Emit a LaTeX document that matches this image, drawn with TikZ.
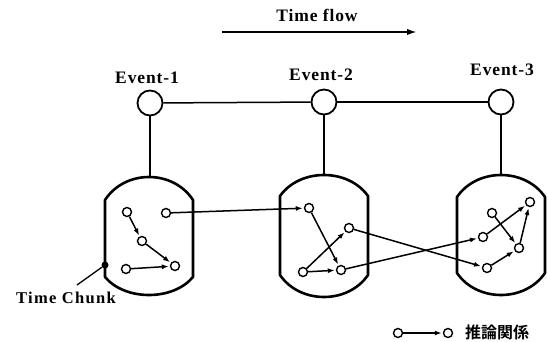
\documentclass[tikz,border=0pt]{standalone}
\usepackage{fontspec}
\setmainfont{Liberation Serif}
\newfontfamily\labfont[LetterSpace=5]{Liberation Serif}
\newfontfamily\tcfont[LetterSpace=8]{Liberation Serif}
\newfontfamily\jpfont{Noto Sans CJK JP Bold}
\usetikzlibrary{arrows.meta,calc}
\newcommand\mychunk[7]{% name, L, R, T, ST, SB, B
  \draw[chunkline] (#2,#5) .. controls ({#2+20},{#5-(#5-#4)*4/3}) and ({#3-20},{#5-(#5-#4)*4/3}) .. (#3,#5)
    -- (#3,#6) .. controls ({#3-20},{#6+(#7-#6)*4/3}) and ({#2+20},{#6+(#7-#6)*4/3}) .. (#2,#6) -- cycle;
  \coordinate (#1) at ({(#2+#3)/2},#4);
}
\begin{document}
\begin{tikzpicture}[x=1pt,y=-1pt,
  chunkline/.style={line width=2.6pt, line join=round},
  evt/.style={circle, draw, line width=1.8pt, minimum size=25pt, inner sep=0pt, fill=white},
  sm/.style={circle, draw, line width=1.4pt, minimum size=9pt, inner sep=0pt, fill=white},
  conn/.style={line width=1.5pt},
  infer/.style={line width=1.5pt, -{Latex[length=7pt,width=5pt]}, shorten >=1pt},
  lab/.style={font=\labfont\fontsize{17.5}{20}\selectfont\bfseries},
]
\useasboundingbox (0,0) rectangle (548,342);
% time flow
\node[lab] (tf) at (317,15) {Time flow};
\coordinate (tfa) at (222,32);
\coordinate (tfb) at (417,32);
\draw[line width=2.6pt, -{Latex[length=10pt,width=6.5pt]}] (tfa) -- (tfb);
% chunks
\mychunk{k1}{105}{193}{177}{200}{277}{295}
\mychunk{k2}{280}{368}{175}{196}{275}{297}
\mychunk{k3}{457}{545}{175}{197}{273}{295}
% events
\node[evt] (e1) at (150,103) {};
\node[evt] (e2) at (324,102) {};
\node[evt] (e3) at (501,102) {};
\node[lab] (l1) at (147,78) {Event-1};
\node[lab] (l2) at (321,75) {Event-2};
\node[lab] (l3) at (502,70) {Event-3};
\draw[conn] (e1) -- (e2);
\draw[conn] (e2) -- (e3);
\draw[line width=1.8pt] (e1) -- (e1 |- k1);
\draw[line width=1.8pt] (e2) -- (e2 |- k2);
\draw[line width=1.8pt] (e3) -- (e3 |- k3);
% small nodes
\node[sm] (a1) at (127,212) {};
\node[sm] (a2) at (166,213) {};
\node[sm] (a3) at (142,241) {};
\node[sm] (a4) at (175,266) {};
\node[sm] (a5) at (126,269) {};
\node[sm] (b1) at (309,208) {};
\node[sm] (b2) at (349,228) {};
\node[sm] (b3) at (303,272) {};
\node[sm] (b4) at (341,270) {};
\node[sm] (c1) at (492,213) {};
\node[sm] (c2) at (530,202) {};
\node[sm] (c3) at (483,237) {};
\node[sm] (c4) at (519,248) {};
\node[sm] (c5) at (487,268) {};
\draw[infer] (a1) -- (a3);
\draw[infer] (a3) -- (a4);
\draw[infer] (a5) -- (a4);
\draw[infer] (a2) -- (b1);
\draw[infer] (b1) -- (b4);
\draw[infer] (b3) -- (b4);
\draw[infer] (b3) -- (b2);
\draw[infer] (b2) -- (c5);
\draw[infer] (b4) -- (c3);
\draw[infer] (c3) -- (c2);
\draw[infer] (c1) -- (c4);
\draw[infer] (c5) -- (c4);
\draw[infer] (c4) -- (c2);
% time chunk label
\node[circle, fill, inner sep=0pt, minimum size=7pt] (dot) at (105,265) {};
\coordinate (tcl) at (77,285);
\draw[line width=1.3pt] (dot) -- (tcl);
\node[font=\tcfont\fontsize{16.5}{19}\selectfont\bfseries] (tc) at (66,298) {Time Chunk};
% legend
\node[sm] (g1) at (398,333) {};
\node[sm] (g2) at (448,333) {};
\draw[infer] (g1) -- (g2);
\node[font=\jpfont\fontsize{16}{18}\selectfont] (gt) at (497,332) {推論関係};
\end{tikzpicture}
\end{document}
